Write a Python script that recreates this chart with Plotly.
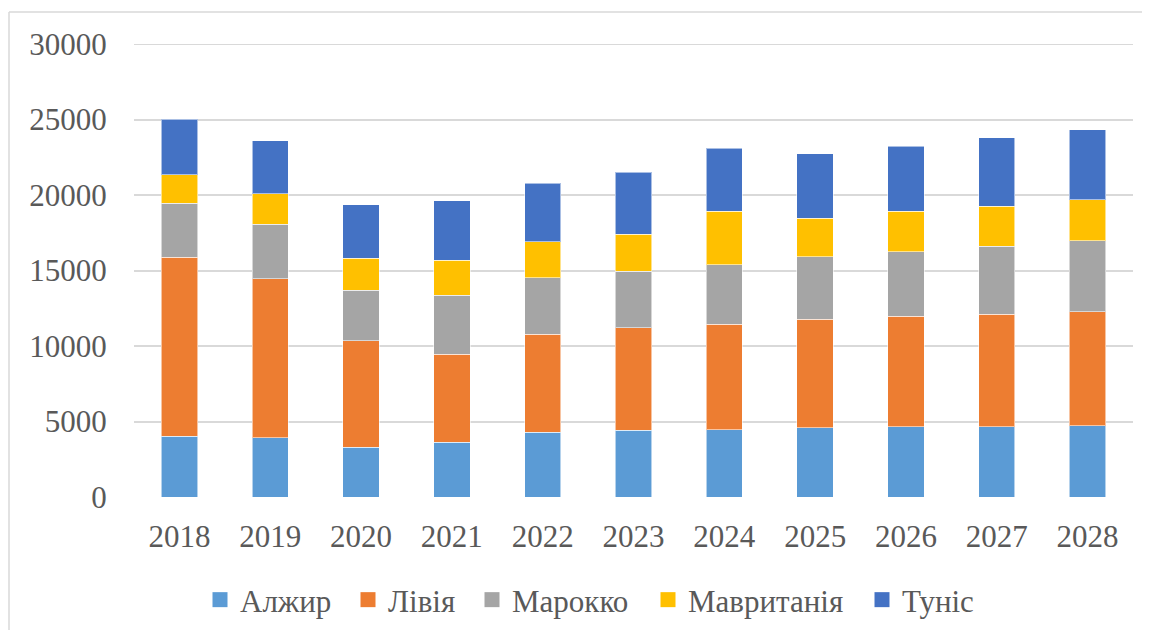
import plotly.graph_objects as go

years = ["2018", "2019", "2020", "2021", "2022", "2023", "2024", "2025", "2026", "2027", "2028"]
algeria = [4040, 3930, 3290, 3620, 4280, 4410, 4450, 4590, 4650, 4650, 4720]
libya = [11840, 10540, 7050, 5820, 6500, 6790, 6990, 7180, 7310, 7450, 7550]
morocco = [3590, 3580, 3360, 3910, 3750, 3750, 3950, 4130, 4290, 4500, 4700]
mauritania = [1870, 2040, 2110, 2330, 2370, 2460, 3540, 2560, 2660, 2660, 2730]
tunisia = [3690, 3510, 3560, 3950, 3890, 4090, 4170, 4270, 4320, 4520, 4630]

series = [
    ("Алжир", algeria, "#5B9BD5"),
    ("Лівія", libya, "#ED7D31"),
    ("Марокко", morocco, "#A5A5A5"),
    ("Мавританія", mauritania, "#FFC000"),
    ("Туніс", tunisia, "#4472C4"),
]
legend_marker_px = [212, 360, 484, 660, 874]  # left edge of each legend swatch in the reference

OFF = 8  # page body margin
W, H = 1150, 630
ml, mr, mt, mb = 134 - OFF, 25, 44 - OFF, 140
pw = W - ml - mr
ph = H - mt - mb
FONT = "Liberation Serif"
TXT = "#595959"

def px_x(p):
    return (p - OFF - ml) / pw

def px_y(p):
    return (H - mb - (p - OFF)) / ph

fig = go.Figure()
for name, vals, color in series:
    fig.add_trace(go.Bar(
        x=years, y=vals, name=name, legendgroup=name, showlegend=False,
        marker=dict(color=color, line=dict(color="rgba(255,255,255,0.55)", width=1)),
    ))

legend_layouts = {}
for i, (name, vals, color) in enumerate(series):
    key = "legend" if i == 0 else f"legend{i + 1}"
    fig.add_trace(go.Scatter(
        x=[None], y=[None], mode="markers", name=name, legendgroup=name, legend=key,
        marker=dict(symbol="square", size=15, color=color),
    ))
    legend_layouts[key] = dict(
        orientation="h", x=px_x(legend_marker_px[i] - 12), xanchor="left",
        y=px_y(600), yanchor="middle",
        font=dict(family=FONT, size=31, color=TXT), bgcolor="rgba(0,0,0,0)",
        itemwidth=30,
    )

fig.update_layout(
    width=W, height=H,
    margin=dict(l=ml, r=mr, t=mt, b=mb),
    barmode="stack",
    bargap=0.6,
    plot_bgcolor="white",
    paper_bgcolor="white",
    font=dict(family=FONT, size=31, color=TXT),
    xaxis=dict(
        type="category", showgrid=False, zeroline=False, showline=False,
        ticks="outside", ticklen=12, tickcolor="rgba(0,0,0,0)", automargin=False,
        tickfont=dict(family=FONT, size=31, color=TXT),
    ),
    yaxis=dict(
        range=[0, 30000], tickvals=[0, 5000, 10000, 15000, 20000, 25000, 30000],
        ticktext=["0", "5000", "10000", "15000", "20000", "25000", "30000"],
        showgrid=True, gridcolor="#D9D9D9", gridwidth=2,
        zeroline=False, showline=False, automargin=False,
        ticks="outside", ticklen=20, tickcolor="rgba(0,0,0,0)",
        tickfont=dict(family=FONT, size=31, color=TXT),
    ),
    shapes=[
        dict(type="line", xref="paper", yref="paper", x0=px_x(9), x1=px_x(1160), y0=px_y(12), y1=px_y(12),
             line=dict(color="#D9D9D9", width=1.5)),
        dict(type="line", xref="paper", yref="paper", x0=px_x(9), x1=px_x(9), y0=px_y(12), y1=px_y(640),
             line=dict(color="#D9D9D9", width=1.5)),
        dict(type="line", xref="paper", yref="y", x0=0, x1=1, y0=30000, y1=30000,
             line=dict(color="#D9D9D9", width=2), layer="below"),
    ],
    **legend_layouts,
)

fig.write_html("out.html")
